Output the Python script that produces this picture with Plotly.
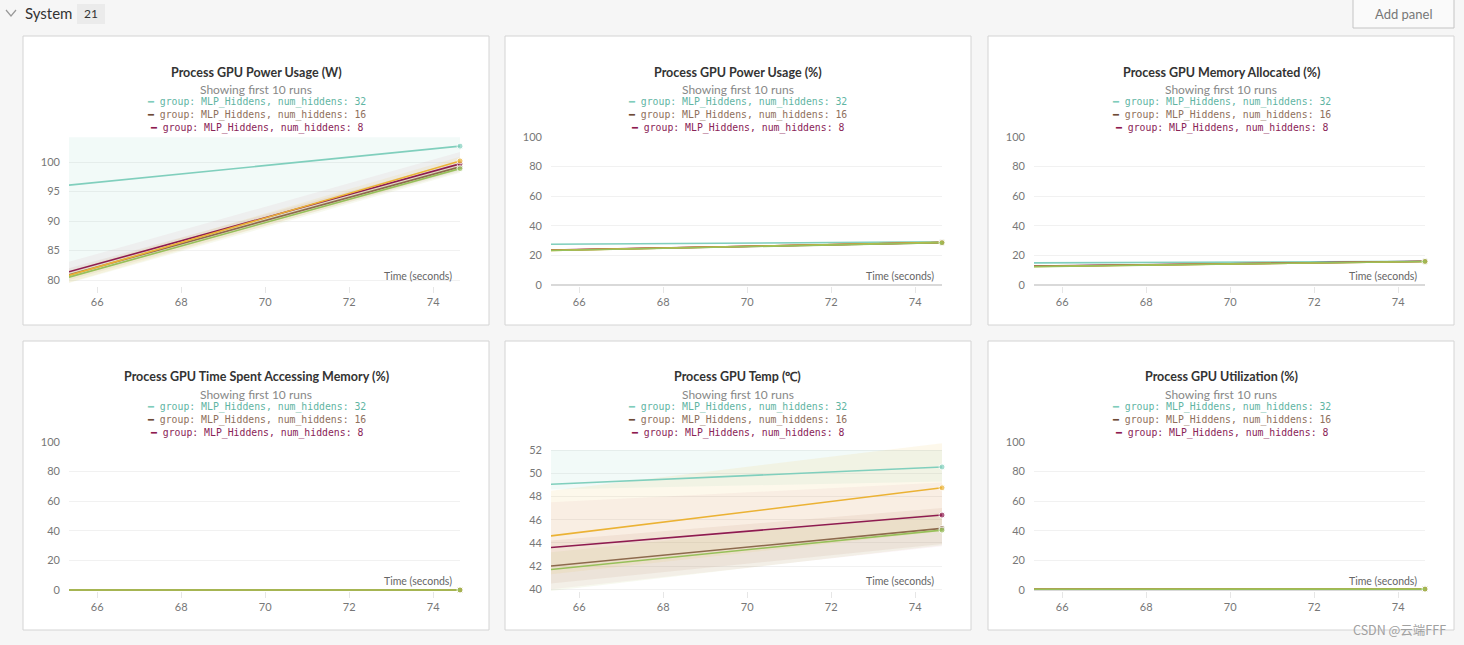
import plotly.graph_objects as go

W, H = 1464, 645

# ---------------- data ----------------
times = [65.33, 74.64]
x_ticks = [66, 68, 70, 72, 74]

series_names = ["num_hiddens: 32", "num_hiddens: 16", "num_hiddens: 8", "run group 4", "run group 5"]
series_colors = ["#80cfbd", "#8d6a4d", "#8e1b50", "#ebb234", "#97c05a"]
band_colors = ["rgba(128,207,189,0.10)", "rgba(170,115,85,0.09)", "rgba(190,70,100,0.06)",
               "rgba(240,190,60,0.10)", "rgba(175,200,95,0.10)"]

panel_titles = ["Process GPU Power Usage (W)", "Process GPU Power Usage (%)",
                "Process GPU Memory Allocated (%)", "Process GPU Time Spent Accessing Memory (%)",
                "Process GPU Temp (℃)", "Process GPU Utilization (%)"]
subtitle = "Showing first 10 runs"
legend_labels = ["group: MLP_Hiddens, num_hiddens: 32",
                 "group: MLP_Hiddens, num_hiddens: 16",
                 "group: MLP_Hiddens, num_hiddens: 8"]
legend_text_colors = ["#5fb5a3", "#8f705c", "#8a2457"]
legend_dash_colors = ["#7fcdbb", "#6e4b37", "#8e1b50"]
x_title = "Time (seconds)"

# [start, end] per series (32, 16, 8, group4, group5)
power_w_mean = [[96.1, 102.7], [80.9, 99.2], [81.4, 99.7], [80.8, 100.2], [80.5, 98.9]]
power_w_lo = [[80.6, 98.6], [80.0, 98.4], [80.4, 98.8], [79.6, 98.7], [79.5, 98.2]]
power_w_hi = [[104.2, 104.2], [82.0, 100.2], [83.1, 101.7], [81.6, 100.9], [81.2, 99.6]]

power_pct_mean = [[27.5, 29.1], [23.5, 28.6], [23.6, 28.7], [23.4, 28.8], [23.3, 28.5]]
power_pct_lo = [[27.0, 28.6], [23.0, 28.1], [23.1, 28.2], [22.9, 28.3], [22.8, 28.0]]
power_pct_hi = [[28.0, 29.6], [24.0, 29.1], [24.1, 29.2], [23.9, 29.3], [23.8, 29.0]]

mem_alloc_mean = [[14.9, 16.0], [12.6, 15.9], [12.7, 16.0], [12.5, 15.9], [12.4, 15.9]]
mem_alloc_lo = [[14.6, 15.7], [12.3, 15.6], [12.4, 15.7], [12.2, 15.6], [12.1, 15.6]]
mem_alloc_hi = [[15.2, 16.3], [12.9, 16.2], [13.0, 16.3], [12.8, 16.2], [12.7, 16.2]]

mem_time_mean = [[0.0, 0.0], [0.0, 0.0], [0.0, 0.0], [0.0, 0.0], [0.0, 0.0]]
mem_time_lo = [[0.0, 0.0], [0.0, 0.0], [0.0, 0.0], [0.0, 0.0], [0.0, 0.0]]
mem_time_hi = [[0.0, 0.0], [0.0, 0.0], [0.0, 0.0], [0.0, 0.0], [0.0, 0.0]]

temp_mean = [[49.05, 50.55], [42.0, 45.25], [43.6, 46.4], [44.6, 48.75], [41.7, 45.1]]
temp_lo = [[48.6, 49.3], [40.5, 43.9], [40.0, 43.7], [41.3, 45.0], [39.85, 43.8]]
temp_hi = [[52.0, 52.0], [44.2, 47.0], [47.5, 49.2], [48.5, 52.6], [43.2, 46.6]]

util_mean = [[0.7, 0.8], [0.5, 0.6], [0.5, 0.6], [0.5, 0.6], [0.5, 0.6]]
util_lo = [[0.7, 0.8], [0.5, 0.6], [0.5, 0.6], [0.5, 0.6], [0.5, 0.6]]
util_hi = [[0.7, 0.8], [0.5, 0.6], [0.5, 0.6], [0.5, 0.6], [0.5, 0.6]]

y_ranges = [[79.0, 104.25], [-0.7, 100], [-0.7, 100], [-0.7, 100], [39.85, 52.7], [-0.7, 100]]
y_dticks = [5, 20, 20, 20, 2, 20]

panels = [(power_w_mean, power_w_lo, power_w_hi),
          (power_pct_mean, power_pct_lo, power_pct_hi),
          (mem_alloc_mean, mem_alloc_lo, mem_alloc_hi),
          (mem_time_mean, mem_time_lo, mem_time_hi),
          (temp_mean, temp_lo, temp_hi),
          (util_mean, util_lo, util_hi)]

# ---------------- layout geometry ----------------
col_left = [23, 505, 988]
row_top = [36, 341]
PANEL_W, PANEL_H = 466, 289


def px(x):
    return x / W


def py(y):
    return 1 - y / H


FONT = "Lato"
MONO = "DejaVu Sans Mono"

fig = go.Figure()
shapes = []
annotations = []
layout_axes = {}


def note(text, x, y, size, color, family=FONT, xanchor="center"):
    annotations.append(dict(text=text, x=px(x), y=py(y), xref="paper", yref="paper",
                            xanchor=xanchor, yanchor="middle", showarrow=False,
                            font=dict(family=family, size=size, color=color)))


for i, (mean, lo, hi) in enumerate(panels):
    r, c = divmod(i, 3)
    pl, pt = col_left[c], row_top[r]
    xa = "x" if i == 0 else f"x{i+1}"
    ya = "y" if i == 0 else f"y{i+1}"
    xkey = "xaxis" if i == 0 else f"xaxis{i+1}"
    ykey = "yaxis" if i == 0 else f"yaxis{i+1}"

    # panel card
    shapes.append(dict(type="rect", xref="paper", yref="paper",
                       x0=px(pl), x1=px(pl + PANEL_W), y0=py(pt + PANEL_H), y1=py(pt),
                       line=dict(color="#d4d4d4", width=1), fillcolor="white", layer="below"))

    # bands
    for s in range(5):
        if hi[s] == lo[s]:
            continue
        fig.add_trace(go.Scatter(x=times + times[::-1], y=hi[s] + lo[s][::-1],
                                 fill="toself", fillcolor=band_colors[s], mode="lines",
                                 line=dict(width=0), hoverinfo="skip", showlegend=False,
                                 xaxis=xa, yaxis=ya))
    # lines
    for s in range(5):
        fig.add_trace(go.Scatter(x=times, y=mean[s], mode="lines+markers", name=series_names[s],
                                 line=dict(color=series_colors[s], width=1.6),
                                 marker=dict(size=[0, 6], color=series_colors[s]),
                                 cliponaxis=False,
                                 showlegend=False, xaxis=xa, yaxis=ya))

    layout_axes[xkey] = dict(domain=[px(pl + 46), px(pl + 437)], range=[times[0], times[-1]],
                             anchor=ya, tickvals=x_ticks, showgrid=False, zeroline=False,
                             ticks="outside", ticklen=6, tickcolor="#e6e6e6", automargin=False,
                             showline=False, tickfont=dict(family=FONT, size=11, color="#777"))
    y0, y1 = y_ranges[i]
    layout_axes[ykey] = dict(domain=[py(pt + 250), py(pt + 101)], range=[y0, y1], anchor=xa,
                             dtick=y_dticks[i], tick0=0, showgrid=True, gridcolor="#f1f1f1",
                             zeroline=(y0 <= 0 <= y1), zerolinecolor="#d9d9d9", zerolinewidth=1.5,
                             ticks="", showline=False, ticklabelstandoff=8, automargin=False,
                             tickfont=dict(family=FONT, size=11, color="#777"))

    cx = pl + PANEL_W / 2
    note(f"<b>{panel_titles[i]}</b>", cx, pt + 36, 12.5, "#333")
    note(subtitle, cx, pt + 53.5, 12, "#888")
    for k in range(3):
        note(f"<span style='color:{legend_dash_colors[k]}'>━</span> {legend_labels[k]}",
             cx, pt + 66 + 13 * k, 9.8, legend_text_colors[k], family=MONO)
    note(x_title, pl + 431, pt + 240, 10.5, "#666", xanchor="right")

# header
note("System", 23, 13, 15, "#333", xanchor="left")
shapes.append(dict(type="rect", xref="paper", yref="paper", x0=px(77), x1=px(105), y0=py(24), y1=py(4),
                   line=dict(width=0), fillcolor="#ebebeb", layer="below"))
note("21", 91, 14, 12, "#333")
shapes.append(dict(type="path", xref="paper", yref="paper",
                   path=f"M {px(6)},{py(10)} L {px(11)},{py(16)} L {px(16)},{py(10)}",
                   line=dict(color="#999", width=1.2)))
shapes.append(dict(type="rect", xref="paper", yref="paper", x0=px(1353), x1=px(1454), y0=py(28), y1=py(-2),
                   line=dict(color="#c4c4c4", width=1), fillcolor="#fafafa", layer="below"))
note("Add panel", 1403.5, 14, 13, "#777")
note("CSDN @云端FFF", 1448, 629, 12.5, "#a0a0a0", family="Noto Sans CJK SC", xanchor="right")

fig.update_layout(width=W, height=H, margin=dict(l=0, r=0, t=0, b=0, pad=0, autoexpand=False),
                  paper_bgcolor="#f6f6f6", plot_bgcolor="white",
                  shapes=shapes, annotations=annotations, showlegend=False,
                  **layout_axes)

fig.write_html(
    "out.html",
    config={"displayModeBar": False},
    post_script=(
        "document.documentElement.style.margin='0';"
        "document.body.style.margin='0';"
        "document.documentElement.style.overflow='hidden';"
        "document.body.style.overflow='hidden';"
        "var gd=document.querySelector('.plotly-graph-div');"
        "gd.style.position='fixed';gd.style.top='0px';gd.style.left='0px';"
    ),
)
